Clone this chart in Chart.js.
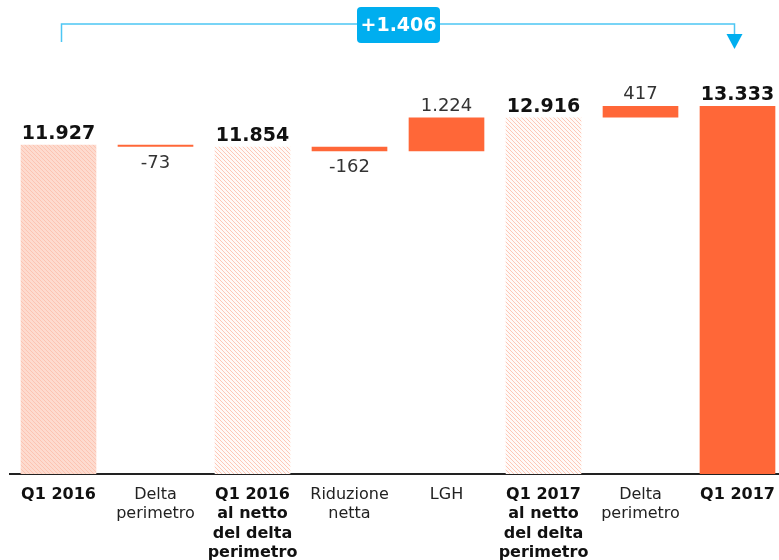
<!DOCTYPE html>
<html>
<head>
<meta charset="utf-8">
<script src="https://cdn.jsdelivr.net/npm/chart.js@4.4.0/dist/chart.umd.min.js"></script>
<style>
    body { margin: 0; background: #fff; overflow: hidden; }
    #wrap { width: 779px; height: 560px; overflow: hidden; }
</style>
</head>
<body>
<div id="wrap"><canvas id="bridge" width="800" height="560"></canvas></div>
<script>
// Chart data
const categories = [
    ['Q1 2016'],
    ['Delta', 'perimetro'],
    ['Q1 2016', 'al netto', 'del delta', 'perimetro'],
    ['Riduzione', 'netta'],
    ['LGH'],
    ['Q1 2017', 'al netto', 'del delta', 'perimetro'],
    ['Delta', 'perimetro'],
    ['Q1 2017']
];
const values = [11927, -73, 11854, -162, 1224, 12916, 417, 13333];
const isTotal = [true, false, true, false, false, true, false, true];
const totalChange = 1406;

const ORANGE = '#ff6738';
const BLUE = '#00aeef';
const FONT = '"DejaVu Sans", Verdana, sans-serif';

// format numbers like 11.927
function fmt(n) {
    const s = Math.abs(n).toString().replace(/\B(?=(\d{3})+(?!\d))/g, '.');
    return (n < 0 ? '-' : '') + s;
}

// hatched fill for intermediate totals
function hatch(bg, line) {
    const c = document.createElement('canvas');
    c.width = 4;
    c.height = 4;
    const g = c.getContext('2d');
    g.fillStyle = bg;
    g.fillRect(0, 0, 4, 4);
    g.fillStyle = line;
    for (let i = 0; i < 4; i++) {
        g.fillRect(i, i, 1, 1);
    }
    return g.createPattern(c, 'repeat');
}

const ctx = document.getElementById('bridge').getContext('2d');
const hatchStrong = hatch('#fddbcf', '#fcc4b2');
const hatchLight = hatch('#fffaf8', '#fdc8b7');

// floating bars for the waterfall
let running = 0;
const ranges = values.map((v, i) => {
    if (isTotal[i]) {
        running = v;
        return [0, v];
    }
    const r = [running, running + v];
    running += v;
    return r;
});

const colors = values.map((v, i) => {
    if (i === 0) return hatchStrong;
    if (i === values.length - 1) return ORANGE;
    if (isTotal[i]) return hatchLight;
    return ORANGE;
});

// value labels over / under each bar
const valueLabels = {
    id: 'valueLabels',
    afterDatasetsDraw(chart) {
        const c = chart.ctx;
        const meta = chart.getDatasetMeta(0);
        c.save();
        c.textAlign = 'center';
        c.textBaseline = 'alphabetic';
        meta.data.forEach((bar, i) => {
            const v = values[i];
            const top = Math.min(bar.y, bar.base);
            const bottom = Math.max(bar.y, bar.base);
            if (isTotal[i]) {
                c.font = 'bold 19px ' + FONT;
                c.fillStyle = '#111';
                c.fillText(fmt(v), bar.x, top - 6);
            } else if (v > 0) {
                c.font = '18px ' + FONT;
                c.fillStyle = '#333';
                c.fillText(fmt(v), bar.x, top - 7);
            } else {
                c.font = '18px ' + FONT;
                c.fillStyle = '#333';
                c.fillText(fmt(v), bar.x, bottom + 21);
            }
        });
        c.restore();
    }
};

// bracket with the overall change on top
const bracket = {
    id: 'bracket',
    afterDraw(chart) {
        const c = chart.ctx;
        const x = chart.scales.x;
        const x0 = x.getPixelForValue(0) + 3;
        const x1 = x.getPixelForValue(values.length - 1) - 3;
        const y = 24;
        c.save();
        c.strokeStyle = '#4cc6f4';
        c.lineWidth = 1.5;
        c.beginPath();
        c.moveTo(x0, 42);
        c.lineTo(x0, y);
        c.lineTo(x1, y);
        c.lineTo(x1, 36);
        c.stroke();
        c.fillStyle = BLUE;
        c.beginPath();
        c.moveTo(x1 - 8, 34);
        c.lineTo(x1 + 8, 34);
        c.lineTo(x1, 49);
        c.closePath();
        c.fill();
        // label box
        const bx = 357, by = 7, bw = 83, bh = 36, r = 4;
        c.beginPath();
        c.roundRect(bx, by, bw, bh, r);
        c.fill();
        c.fillStyle = '#fff';
        c.font = 'bold 19px ' + FONT;
        c.textAlign = 'center';
        c.textBaseline = 'middle';
        c.fillText('+' + fmt(totalChange), bx + bw / 2, by + bh / 2 + 1);
        c.restore();
    }
};

const chart = new Chart(ctx, {
    type: 'bar',
    data: {
        labels: categories,
        datasets: [{
            data: ranges,
            backgroundColor: colors,
            borderWidth: 0,
            barPercentage: 0.78,
            categoryPercentage: 1.0,
        }]
    },
    options: {
        responsive: false,
        animation: false,
        layout: {
            padding: { top: 60, left: 10, right: 14, bottom: 0 }
        },
        plugins: {
            legend: { display: false },
            tooltip: { enabled: false },
        },
        scales: {
            x: {
                grid: { display: false },
                border: { display: true, color: '#222', width: 2 },
                ticks: {
                    autoSkip: false,
                    maxRotation: 0,
                    padding: 3,
                    color: (c) => isTotal[c.index] ? '#111' : '#222',
                    font: (c) => ({
                        family: FONT,
                        size: 16,
                        weight: isTotal[c.index] ? 'bold' : 'normal',
                        lineHeight: 1.22
                    })
                },
                afterFit(scale) {
                    scale.height = 86;
                }
            },
            y: {
                display: false,
                min: 0,
                max: 15000
            }
        }
    },
    plugins: [valueLabels, bracket]
});
</script>
</body>
</html>
